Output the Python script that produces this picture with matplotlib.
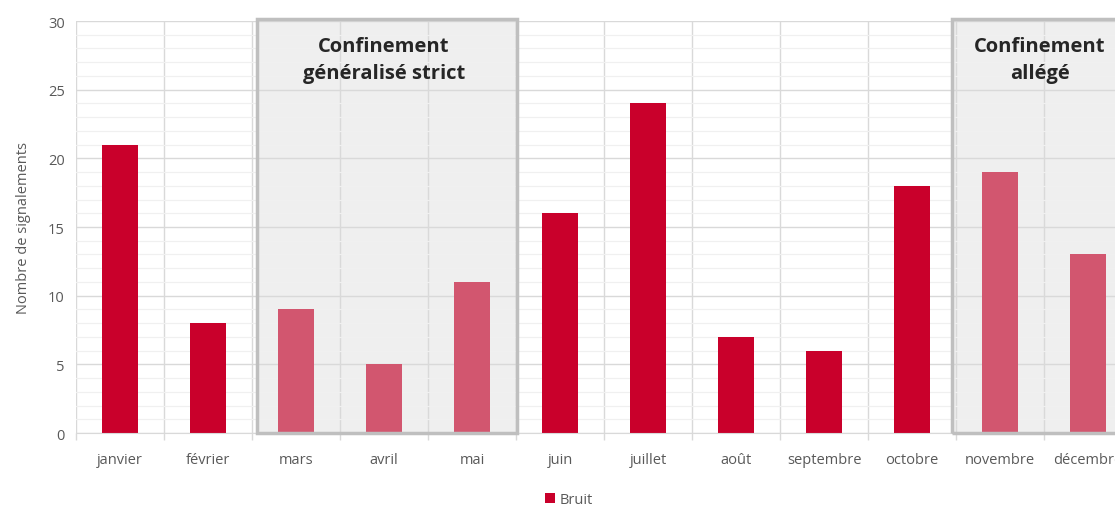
import matplotlib.pyplot as plt
from matplotlib.patches import Rectangle
import numpy as np

mois = ['janvier', 'février', 'mars', 'avril', 'mai', 'juin', 'juillet',
        'août', 'septembre', 'octobre', 'novembre', 'décembre']
bruit = [21, 8, 9, 5, 11, 16, 24, 7, 6, 18, 19, 13]
confine = [False, False, True, True, True, False, False,
           False, False, False, True, True]
periodes = ['Confinement\ngénéralisé strict', 'Confinement\nallégé']

# cadres des zones (en unites de categorie) et position du texte
cadres = [(1.557, 4.51, 3.0), (9.45, 11.6, 10.45)]

rouge = '#C9002B'
rouge_clair = '#D2566F'
gris_txt = '#595959'

plt.rcParams['font.family'] = ['Open Sans', 'DejaVu Sans']

fig = plt.figure(figsize=(11.15, 5.06), dpi=100)
ax = fig.add_axes([76 / 1115, 1 - 434 / 506, 1056 / 1115, 412 / 506])

x = np.arange(len(mois))
couleurs = [rouge_clair if c else rouge for c in confine]
ax.bar(x, bruit, width=0.42, color=couleurs, zorder=2, label='Bruit')

ax.set_xlim(-0.5, len(mois) - 0.5)
ax.set_ylim(0, 30)
ax.set_yticks(range(0, 31, 5))
ax.set_yticks(range(0, 31), minor=True)
ax.set_xticks(x)
ax.set_xticklabels(mois)
ax.set_xticks(np.arange(-0.5, len(mois)), minor=True)

# grilles facon Excel
ax.set_axisbelow(True)
ax.grid(axis='y', which='major', color='#D9D9D9', lw=1, zorder=0.5)
ax.grid(axis='y', which='minor', color='#F0F0F0', lw=0.9, zorder=0.4)
ax.grid(axis='x', which='minor', color='#D9D9D9', lw=1, zorder=0.5)
ax.grid(axis='x', which='major', visible=False)

ax.tick_params(axis='y', which='both', length=0, colors=gris_txt, labelsize=10.5, pad=8)
ax.tick_params(axis='x', which='major', length=0, colors=gris_txt, labelsize=10.5, pad=14)
ax.tick_params(axis='x', which='minor', length=5, color='#D9D9D9', width=1)

for s in ['top', 'right', 'left']:
    ax.spines[s].set_visible(False)
ax.spines['bottom'].set_color('#D9D9D9')

ax.set_ylabel('Nombre de signalements', color=gris_txt, fontsize=10.5, labelpad=12)

# zones de confinement
for texte, (x0, x1, xt) in zip(periodes, cadres):
    ax.add_patch(Rectangle((x0, 0), x1 - x0, 30.15, facecolor='#EFEFEF',
                           edgecolor='none', zorder=0.2, clip_on=False))
    ax.add_patch(Rectangle((x0, 0), x1 - x0, 30.15, facecolor='none',
                           edgecolor='#BFBFBF', lw=2.5, zorder=3, clip_on=False))
    ax.text(xt, 27.2, texte, ha='center', va='center',
            fontsize=14.5, fontweight='bold', color='#262626', linespacing=1.5, zorder=4)

leg = fig.legend(loc='lower center', bbox_to_anchor=(0.51, -0.03), frameon=False,
                 fontsize=10.5, handlelength=0.7, handleheight=0.7, handletextpad=0.3)
for t in leg.get_texts():
    t.set_color(gris_txt)

fig.savefig('out.png', dpi=100)
